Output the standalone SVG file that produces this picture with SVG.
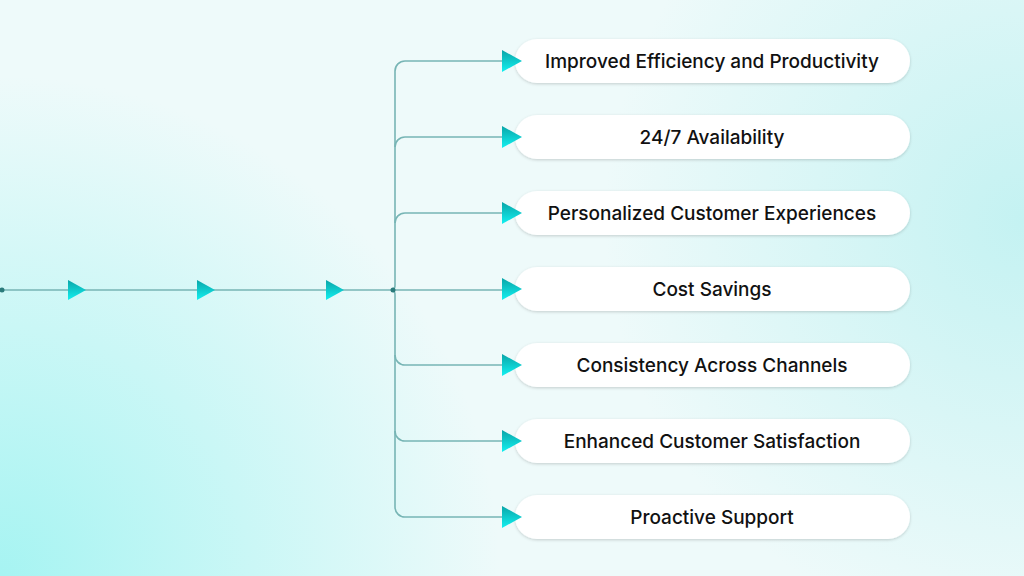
<svg xmlns="http://www.w3.org/2000/svg" width="1024" height="576" viewBox="0 0 1024 576">
<defs>
<radialGradient id="g1" cx="0" cy="576" r="500" gradientUnits="userSpaceOnUse"><stop offset="0" stop-color="#a6f4f2"/><stop offset="1" stop-color="#a6f4f2" stop-opacity="0"/></radialGradient>
<radialGradient id="g2" cx="1024" cy="220" r="420" gradientUnits="userSpaceOnUse"><stop offset="0" stop-color="#c4f2f2"/><stop offset="1" stop-color="#c4f2f2" stop-opacity="0"/></radialGradient>
<linearGradient id="tri" x1="0" y1="0" x2="0" y2="1"><stop offset="0" stop-color="#0aa5a8"/><stop offset="1" stop-color="#13f0f0"/></linearGradient>
<filter id="sh" x="-10%" y="-30%" width="120%" height="160%"><feDropShadow dx="0" dy="1" stdDeviation="1.5" flood-color="#000" flood-opacity="0.18"/></filter>
<style>
.ln{fill:none;stroke:#77b5b5;stroke-width:1.6}
.box{fill:#fff;filter:url(#sh)}
.t{font-family:Inter,"Liberation Sans",sans-serif;font-size:19px;font-weight:500;fill:#111;text-anchor:middle;dominant-baseline:central}
.tri{fill:url(#tri)}
</style>
</defs>
<rect width="1024" height="576" fill="#eefafa"/>
<rect width="1024" height="576" fill="url(#g1)"/>
<rect width="1024" height="576" fill="url(#g2)"/>
<g id="n1"><rect class="box" x="515" y="39" width="395" height="44" rx="22"/><text class="t" x="712" y="61">Improved Efficiency and Productivity</text></g>
<g id="n2"><rect class="box" x="515" y="115" width="395" height="44" rx="22"/><text class="t" x="712" y="137">24/7 Availability</text></g>
<g id="n3"><rect class="box" x="515" y="191" width="395" height="44" rx="22"/><text class="t" x="712" y="213">Personalized Customer Experiences</text></g>
<g id="n4"><rect class="box" x="515" y="267" width="395" height="44" rx="22"/><text class="t" x="712" y="289">Cost Savings</text></g>
<g id="n5"><rect class="box" x="515" y="343" width="395" height="44" rx="22"/><text class="t" x="712" y="365">Consistency Across Channels</text></g>
<g id="n6"><rect class="box" x="515" y="419" width="395" height="44" rx="22"/><text class="t" x="712" y="441">Enhanced Customer Satisfaction</text></g>
<g id="n7"><rect class="box" x="515" y="495" width="395" height="44" rx="22"/><text class="t" x="712" y="517">Proactive Support</text></g>
<g id="connectors">
<path class="ln" d="M1 290H510"/>
<path class="ln" d="M395 285V71a10 10 0 0 1 10-10H510"/>
<path class="ln" d="M395 295V507a10 10 0 0 0 10 10H510"/>
<path class="ln" d="M395 147a10 10 0 0 1 10-10H510 M395 223a10 10 0 0 1 10-10H510 M395 355a10 10 0 0 0 10 10H510 M395 431a10 10 0 0 0 10 10H510"/>
<path class="ln" d="M395 285a5 5 0 0 1 -3 5a5 5 0 0 1 3 5"/>
<circle cx="2" cy="290" r="2.5" fill="#2a7b7b"/>
<circle cx="393" cy="290" r="2.5" fill="#2a7b7b"/>
<path class="tri" d="M68 280L86 290L68 300Z"/>
<path class="tri" d="M197 280L215 290L197 300Z"/>
<path class="tri" d="M326 280L344 290L326 300Z"/>
<path class="tri" d="M502 50L522 61L502 72Z"/>
<path class="tri" d="M502 126L522 137L502 148Z"/>
<path class="tri" d="M502 202L522 213L502 224Z"/>
<path class="tri" d="M502 278L522 289L502 300Z"/>
<path class="tri" d="M502 354L522 365L502 376Z"/>
<path class="tri" d="M502 430L522 441L502 452Z"/>
<path class="tri" d="M502 506L522 517L502 528Z"/>
</g>
</svg>
